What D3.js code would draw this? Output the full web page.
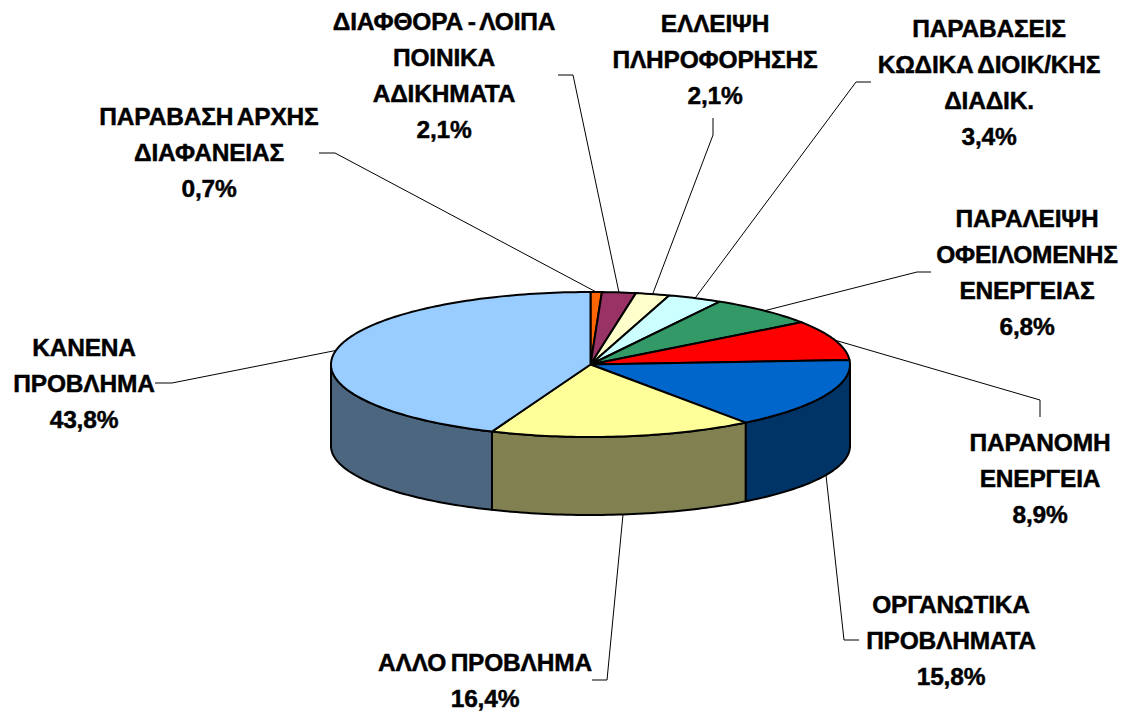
<!DOCTYPE html>
<html><head><meta charset="utf-8">
<style>html,body{margin:0;background:#fff}svg{display:block}
text{font-family:"Liberation Sans",Arial,sans-serif;font-weight:bold;font-size:24.5px;fill:#000;stroke:#000;stroke-width:0.45;text-anchor:middle;word-spacing:-2px;letter-spacing:-0.2px}</style>
<script src="https://cdnjs.cloudflare.com/ajax/libs/d3/7.8.5/d3.min.js"></script>
</head><body><svg id="c" width="1128" height="715"></svg>
<script>
const categories=["ΠΑΡΑΒΑΣΗ ΑΡΧΗΣ ΔΙΑΦΑΝΕΙΑΣ","ΔΙΑΦΘΟΡΑ - ΛΟΙΠΑ ΠΟΙΝΙΚΑ ΑΔΙΚΗΜΑΤΑ","ΕΛΛΕΙΨΗ ΠΛΗΡΟΦΟΡΗΣΗΣ","ΠΑΡΑΒΑΣΕΙΣ ΚΩΔΙΚΑ ΔΙΟΙΚ/ΚΗΣ ΔΙΑΔΙΚ.","ΠΑΡΑΛΕΙΨΗ ΟΦΕΙΛΟΜΕΝΗΣ ΕΝΕΡΓΕΙΑΣ","ΠΑΡΑΝΟΜΗ ΕΝΕΡΓΕΙΑ","ΟΡΓΑΝΩΤΙΚΑ ΠΡΟΒΛΗΜΑΤΑ","ΑΛΛΟ ΠΡΟΒΛΗΜΑ","ΚΑΝΕΝΑ ΠΡΟΒΛΗΜΑ"];
const values=[0.7,2.1,2.1,3.4,6.8,8.9,15.8,16.4,43.8];
const topColors=["#ff6600","#993366","#ffffcc","#ccffff","#339966","#ff0000","#0066cc","#ffff99","#99ccff"];
const sideColors=["#803300","#4d1a33","#808066","#668080","#1a4d33","#800000","#003366","#808050","#4d6680"];
const labelLines=[["ΠΑΡΑΒΑΣΗ ΑΡΧΗΣ","ΔΙΑΦΑΝΕΙΑΣ","0,7%"],["ΔΙΑΦΘΟΡΑ - ΛΟΙΠΑ","ΠΟΙΝΙΚΑ","ΑΔΙΚΗΜΑΤΑ","2,1%"],["ΕΛΛΕΙΨΗ","ΠΛΗΡΟΦΟΡΗΣΗΣ","2,1%"],["ΠΑΡΑΒΑΣΕΙΣ","ΚΩΔΙΚΑ ΔΙΟΙΚ/ΚΗΣ","ΔΙΑΔΙΚ.","3,4%"],["ΠΑΡΑΛΕΙΨΗ","ΟΦΕΙΛΟΜΕΝΗΣ","ΕΝΕΡΓΕΙΑΣ","6,8%"],["ΠΑΡΑΝΟΜΗ","ΕΝΕΡΓΕΙΑ","8,9%"],["ΟΡΓΑΝΩΤΙΚΑ","ΠΡΟΒΛΗΜΑΤΑ","15,8%"],["ΑΛΛΟ ΠΡΟΒΛΗΜΑ","16,4%"],["ΚΑΝΕΝΑ","ΠΡΟΒΛΗΜΑ","43,8%"]];
const labelAnchor=[[209,125],[444,30],[715,32],[989,37],[1027,227],[1040,451],[951,613],[485,671],[84,356]];
const leaderBends=[[[335,153],[319,153]],[[573,75],[558,75]],[[713,135],[713,118]],[[856,82],[871,82]],[[917,272],[931,272]],[[1040,400],[1040,417]],[[844,640],[859,640]],[[607,680],[592,680]],[[172,383],[155,383]]];

const cx=590.5,cy=364.5,rx=259.5,ry=72.5,cyBottom=446,ryBottom=69;
const svg=d3.select("#c");
const X=d3.scaleLinear().domain([-1,1]).range([cx-rx,cx+rx]);
const Y=d3.scaleLinear().domain([-1,1]).range([cy-ry,cy+ry]);
const YB=d3.scaleLinear().domain([-1,1]).range([cyBottom-ryBottom,cyBottom+ryBottom]);
const px=a=>X(Math.sin(a)),py=a=>Y(-Math.cos(a)),pyb=a=>YB(-Math.cos(a));
const arcs=d3.pie().sort(null).value(d=>d)(values);
const line=d3.line();
const samples=(a0,a1)=>{const n=Math.max(2,Math.ceil((a1-a0)/0.02));return d3.range(n+1).map(i=>a0+(a1-a0)*i/n);};

arcs.forEach((d,i)=>{
  const a0=Math.max(d.startAngle,Math.PI/2),a1=Math.min(d.endAngle,3*Math.PI/2);
  if(a1<=a0)return;
  const s=samples(a0,a1);
  const pts=s.map(a=>[px(a),py(a)]).concat(s.slice().reverse().map(a=>[px(a),pyb(a)]));
  svg.append("path").attr("d",line(pts)+"Z").attr("fill",sideColors[i]).attr("stroke","#000").attr("stroke-width",2).attr("stroke-linejoin","round");
});
arcs.forEach((d,i)=>{
  const pts=[[X(0),Y(0)]].concat(samples(d.startAngle,d.endAngle).map(a=>[px(a),py(a)]));
  svg.append("path").attr("d",line(pts)+"Z").attr("fill",topColors[i]).attr("stroke","#000").attr("stroke-width",2).attr("stroke-linejoin","round");
});
arcs.forEach((d,i)=>{
  const m=(d.startAngle+d.endAngle)/2;
  const front=Math.cos(m)<0&&Math.abs(Math.sin(m))<0.95;
  const start=[px(m),front?pyb(m):py(m)];
  svg.append("path").attr("d",line([start,...leaderBends[i]])).attr("fill","none").attr("stroke","#000").attr("stroke-width",1);
});
labelLines.forEach((ls,i)=>{
  const t=svg.append("text");
  ls.forEach((l,j)=>t.append("tspan").attr("x",labelAnchor[i][0]).attr("y",labelAnchor[i][1]+j*36).text(l));
});
</script></body></html>
